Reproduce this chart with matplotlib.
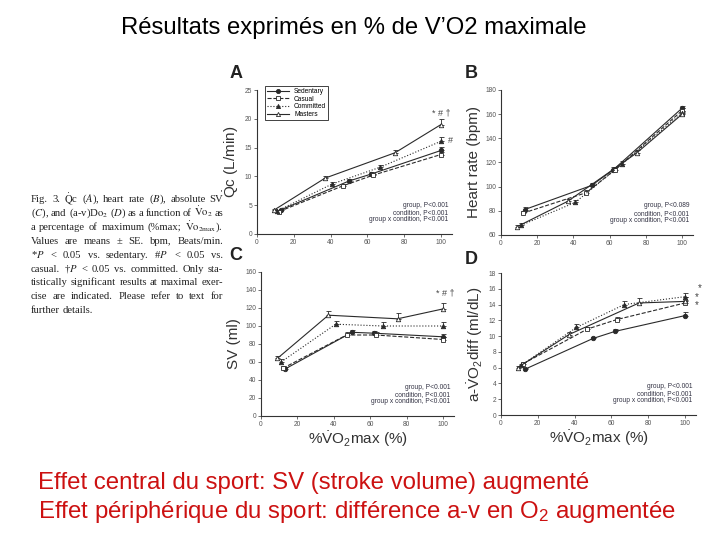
import numpy as np
import matplotlib
matplotlib.use('Agg')
import matplotlib.pyplot as plt
from matplotlib.lines import Line2D

plt.rcParams['font.family'] = ['Liberation Sans', 'DejaVu Sans']
plt.rcParams['mathtext.fontset'] = 'custom'
plt.rcParams['mathtext.rm'] = 'Liberation Sans'
plt.rcParams['mathtext.it'] = 'Liberation Sans:italic'

# données (%VO2max par groupe)
groupes = ['Sedentary', 'Casual', 'Committed', 'Masters']
x_sed = [13, 50, 62, 100]
x_cas = [12, 47, 63, 100]
x_com = [11, 41, 67, 100]
x_mas = [9, 37, 75, 100]

# A : Qc (L/min)
qc_sed = [4.2, 9.2, 10.4, 14.5]
qc_cas = [3.9, 8.4, 10.2, 13.8]
qc_com = [4.0, 8.7, 11.6, 16.1]
qc_mas = [4.1, 9.7, 14.1, 19.0]
qc_err = [[0.2, 0.3, 0.3, 0.6], [0.2, 0.3, 0.3, 0.5], [0.2, 0.3, 0.4, 0.7], [0.2, 0.3, 0.5, 0.9]]

# B : fréquence cardiaque (bpm)
hr_sed = [81, 101, 114, 165]
hr_cas = [78, 95, 114, 163]
hr_com = [68, 87, 119, 161]
hr_mas = [67, 88, 128, 160]
hr_err = [[2, 2, 2, 2], [2, 2, 2, 2], [2, 2, 2, 2], [1, 2, 2, 2]]

# C : SV (ml)
sv_sed = [52, 93, 92, 88]
sv_cas = [53, 90, 90, 85]
sv_com = [60, 102, 100, 100]
sv_mas = [64, 112, 108, 119]
sv_err = [[3, 3, 3, 3], [3, 3, 3, 3], [3, 4, 4, 4], [3, 5, 6, 7]]

# D : différence a-v O2 (ml/dL)
av_sed = [5.8, 9.7, 10.6, 12.6]
av_cas = [6.5, 10.9, 12.1, 14.2]
av_com = [6.3, 11.1, 14.0, 15.0]
av_mas = [6.0, 10.2, 14.2, 14.4]
av_err = [[0.2, 0.2, 0.3, 0.5], [0.2, 0.3, 0.3, 0.4], [0.2, 0.4, 0.5, 0.5], [0.2, 0.3, 0.6, 0.5]]

xs = [x_sed, x_cas, x_com, x_mas]
styles = [('-', 'o', 'k'), ('--', 's', 'w'), (':', '^', 'k'), ('-', '^', 'w')]

stats_A = ['group, P<0.001', 'condition, P<0.001', 'group x condition, P<0.001']
stats_B = ['group, P<0.089', 'condition, P<0.001', 'group x condition, P<0.001']
stats_C = ['group, P<0.001', 'condition, P<0.001', 'group x condition, P<0.001']
stats_D = ['group, P<0.001', 'condition, P<0.001', 'group x condition, P<0.001']

W, H = 720, 540
LC = '#2a2a2a'
fig = plt.figure(figsize=(7.2, 5.4), dpi=100)


def rect(l, r, t, b):
    return [l / W, 1 - b / H, (r - l) / W, (b - t) / H]


def px(x, y):
    return x / W, 1 - y / H


def panneau(ax, series, errs, ylim, yticks, stats):
    for x, y, e, (ls, mk, fc), nom in zip(xs, series, errs, styles, groupes):
        ax.errorbar(x, y, yerr=[np.zeros(len(e)), e], color=LC, ls=ls, lw=0.8,
                    marker=mk, ms=3.2, mfc=LC if fc == 'k' else 'white', mec=LC,
                    mew=0.6, capsize=1.8, elinewidth=0.6, capthick=0.6)
    ax.set_xlim(0, 106)
    ax.set_ylim(*ylim)
    ax.set_xticks([0, 20, 40, 60, 80, 100])
    ax.set_yticks(yticks)
    for s in ['top', 'right']:
        ax.spines[s].set_visible(False)
    for s in ['left', 'bottom']:
        ax.spines[s].set_linewidth(0.8)
        ax.spines[s].set_color('#333333')
    ax.tick_params(direction='out', length=2, width=0.6, labelsize=4.8,
                   colors='#555555', pad=1.5)
    for k, ligne in enumerate(stats):
        ax.text(0.98, 0.20 - k * 0.05, ligne, transform=ax.transAxes, ha='right',
                va='center', fontsize=4.8, color='#333344')


axA = fig.add_axes(rect(257, 452, 90, 234))
panneau(axA, [qc_sed, qc_cas, qc_com, qc_mas], qc_err, (0, 25), range(0, 26, 5), stats_A)
poignees = [Line2D([], [], color=LC, ls=ls, lw=0.8, marker=mk, ms=3,
                   mfc=LC if fc == 'k' else 'white', mec=LC, mew=0.6)
            for ls, mk, fc in styles]
leg = axA.legend(poignees, groupes, loc='upper left', bbox_to_anchor=(0.026, 1.05),
                 fontsize=4.8, handlelength=3.2, borderpad=0.3, labelspacing=0.1,
                 fancybox=False, edgecolor='#222222', framealpha=1)
leg.get_frame().set_linewidth(0.6)
axA.text(100, 21.0, '* # †', ha='center', va='center', fontsize=6.5, color='#444444')
axA.text(105, 16.3, '#', ha='center', va='center', fontsize=6.5, color='#444444', clip_on=False)
axA.set_ylabel(r'$\dot{\mathrm{Q}}$c (L/min)', fontsize=11, color='#333333', labelpad=3)

axB = fig.add_axes(rect(501, 693, 90, 235))
panneau(axB, [hr_sed, hr_cas, hr_com, hr_mas], hr_err, (60, 180), range(60, 181, 20), stats_B)
axB.set_ylabel('Heart rate (bpm)', fontsize=11, color='#333333', labelpad=3)

axC = fig.add_axes(rect(261, 454, 272, 416))
panneau(axC, [sv_sed, sv_cas, sv_com, sv_mas], sv_err, (0, 160), range(0, 161, 20), stats_C)
axC.text(101, 137, '* # †', ha='center', va='center', fontsize=6.5, color='#444444', clip_on=False)
axC.set_ylabel('SV (ml)', fontsize=11, color='#333333', labelpad=3)
axC.set_xlabel(r'%$\dot{\mathrm{V}}\mathrm{O}_2$max (%)', fontsize=11, color='#333333', labelpad=1)

axD = fig.add_axes(rect(501, 696, 273, 415))
panneau(axD, [av_sed, av_cas, av_com, av_mas], av_err, (0, 18), range(0, 19, 2), stats_D)
for yy, xx in [(16.1, 108), (15.0, 106.5), (13.9, 106.5)]:
    axD.text(xx, yy, '*', ha='center', va='center', fontsize=7, color='#444444', clip_on=False)
axD.set_ylabel(r'a-$\dot{\mathrm{V}}\mathrm{O}_2$diff (ml/dL)', fontsize=11, color='#333333', labelpad=3)
axD.set_xlabel(r'%$\dot{\mathrm{V}}\mathrm{O}_2$max (%)', fontsize=11, color='#333333', labelpad=1)

for lettre, (x, y) in zip('ABCD', [(236, 73), (471, 74), (236, 256), (471, 259)]):
    fig.text(*px(x, y), lettre, fontsize=13, fontweight='bold', ha='center', va='center', color='#222222')

# légende de la figure (texte justifié)
legende = [
    r'Fig. 3. $\dot{\mathrm{Q}}$c ($A$), heart rate ($B$), absolute SV',
    r'($C$), and (a-v)D$\mathrm{o}_2$ ($D$) as a function of $\dot{\mathrm{V}}\mathrm{o}_2$ as',
    r'a percentage of maximum (%max; $\dot{\mathrm{V}}\mathrm{o}_{2\mathrm{max}}$).',
    'Values are means ± SE. bpm, Beats/min.',
    r'*$P$ < 0.05 vs. sedentary. #$P$ < 0.05 vs.',
    r'casual. †$P$ < 0.05 vs. committed. Only sta-',
    'tistically significant results at maximal exer-',
    'cise are indicated. Please refer to text for',
    'further details.',
]
rend = fig.canvas.get_renderer()
x0, x1 = 31, 223
for i, ligne in enumerate(legende):
    y = 202 + i * 13.9
    mots = ligne.split(' ')
    arts = [fig.text(0, 0, m, fontsize=7.7, family='Liberation Serif', math_fontfamily='stix',
                     color='#222222', va='baseline') for m in mots]
    larg = [a.get_window_extent(rend).width for a in arts]
    if i < len(legende) - 1:
        esp = (x1 - x0 - sum(larg)) / (len(mots) - 1)
    else:
        esp = 2.2
    xc = x0
    for a, w in zip(arts, larg):
        a.set_position(px(xc, y))
        xc += w + esp

fig.text(*px(354, 28), 'Résultats exprimés en % de V’O2 maximale', fontsize=17.2,
         ha='center', va='center', color='black')
fig.text(*px(38, 483), 'Effet central du sport: SV (stroke volume) augmenté', fontsize=17.3,
         ha='left', va='center', color='#cc1111')
fig.text(*px(38, 512), 'Effet périphérique du sport: différence a-v en O$_2$ augmentée', fontsize=17.3,
         ha='left', va='center', color='#cc1111')

fig.savefig('out.png', dpi=100, facecolor='white')
